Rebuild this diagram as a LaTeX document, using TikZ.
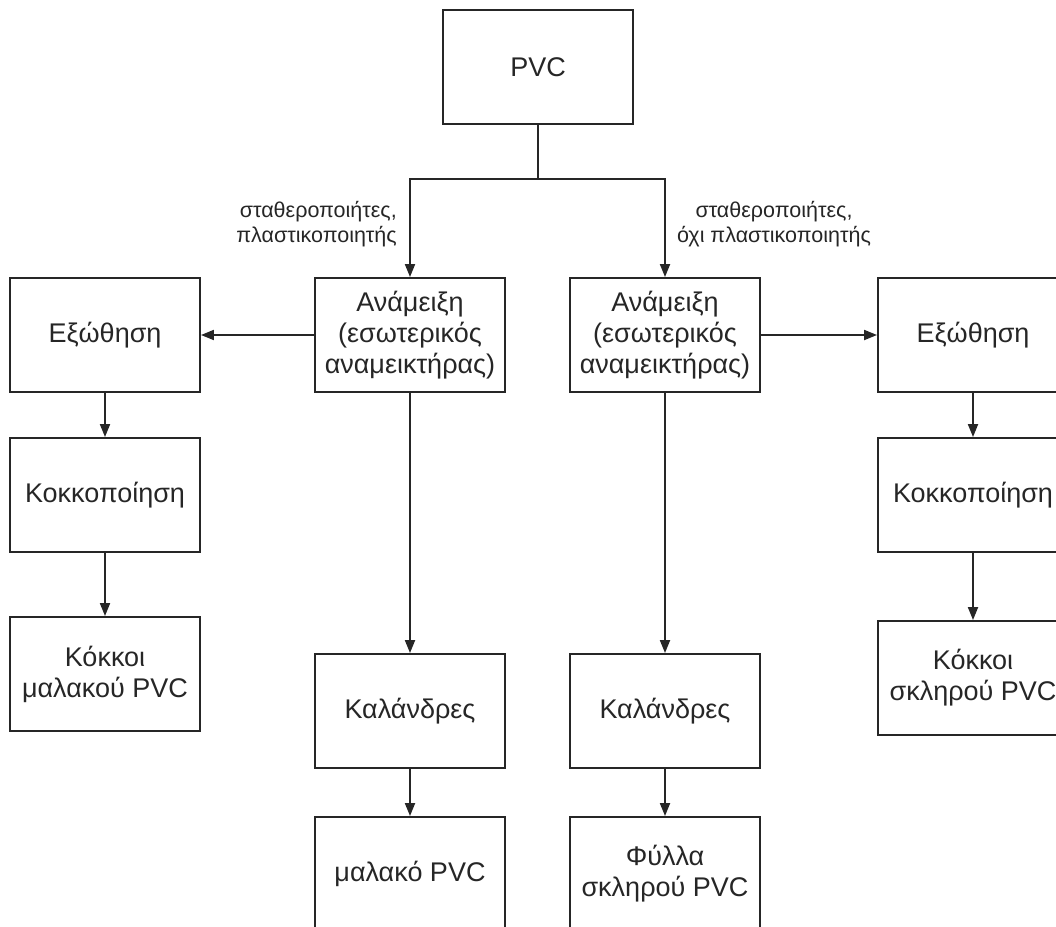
\documentclass[tikz,border=0pt]{standalone}
\usepackage{fontspec}
\setmainfont{Liberation Sans}
\usetikzlibrary{arrows.meta}
\begin{document}
\begin{tikzpicture}[x=1pt,y=-1pt,
  box/.style={draw=black!85,line width=1.9pt,minimum width=190pt,minimum height=114pt,
    align=center,inner sep=2pt,font=\fontsize{27}{31}\selectfont,text=black!85},
  conn/.style={draw=black!85,line width=1.9pt},
  arr/.style={conn,-{Triangle[length=13pt,width=10pt]}},
  lbl/.style={font=\fontsize{21.5}{25}\selectfont,text=black!85,inner sep=0pt}]
\useasboundingbox (0,0) rectangle (1056,926);
\begin{scope}
\clip (0,0) rectangle (1056,926);
% main source
\node[box] (pvc) at (538,67) {PVC};
% mixers
\node[box] (mixL) at (410,335) {Ανάμειξη\\(εσωτερικός\\αναμεικτήρας)};
\node[box] (mixR) at (665,335) {Ανάμειξη\\(εσωτερικός\\αναμεικτήρας)};
% extrusion lines
\node[box] (extL) at (105,335) {Εξώθηση};
\node[box] (extR) at (973,335) {Εξώθηση};
\node[box] (grL) at (105,495) {Κοκκοποίηση};
\node[box] (grR) at (973,495) {Κοκκοποίηση};
\node[box] (pelL) at (105,674) {Κόκκοι\\μαλακού PVC};
\node[box] (pelR) at (973,678) {Κόκκοι\\σκληρού PVC};
% calender lines
\node[box] (calL) at (410,711) {Καλάνδρες};
\node[box] (calR) at (665,711) {Καλάνδρες};
\node[box] (outL) at (410,874) {μαλακό PVC};
\node[box] (outR) at (665,874) {Φύλλα\\σκληρού PVC};
% branch labels
\node[lbl,align=right,anchor=east] (labL) at (397,224) {σταθεροποιήτες,\\πλαστικοποιητής};
\node[lbl,align=center] (labR) at (774,224) {σταθεροποιήτες,\\όχι πλαστικοποιητής};
% connectors
\coordinate (split) at (538,179);
\draw[conn] (pvc.south) -- (split);
\draw[arr] (split) -| (mixL.north);
\draw[arr] (split) -| (mixR.north);
\draw[arr] (mixL.west) -- (extL.east);
\draw[arr] (mixR.east) -- (extR.west);
\draw[arr] (extL) -- (grL);
\draw[arr] (grL) -- (pelL);
\draw[arr] (extR) -- (grR);
\draw[arr] (grR) -- (pelR);
\draw[arr] (mixL) -- (calL);
\draw[arr] (mixR) -- (calR);
\draw[arr] (calL) -- (outL);
\draw[arr] (calR) -- (outR);
\end{scope}
\end{tikzpicture}
\end{document}
